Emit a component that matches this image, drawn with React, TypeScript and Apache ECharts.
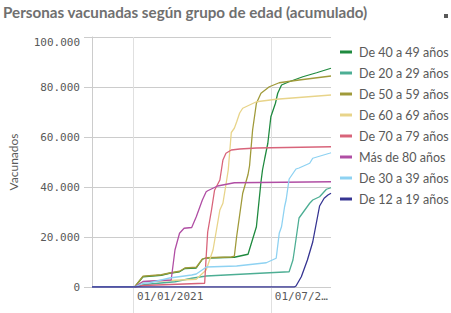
import { useEffect, useRef } from "react";
import * as echarts from "echarts";

const titleText = "Personas vacunadas según grupo de edad (acumulado)";
const yAxisName = "Vacunados";
const xMin = "2020-11-08";
const xMax = "2021-09-18";
const xTickDates = ["2021-01-01", "2021-07-01"];
const yTicks = [0, 20000, 40000, 60000, 80000, 100000];

const seriesNames = [
  "De 40 a 49 años",
  "De 20 a 29 años",
  "De 50 a 59 años",
  "De 60 a 69 años",
  "De 70 a 79 años",
  "Más de 80 años",
  "De 30 a 39 años",
  "De 12 a 19 años",
];

const seriesColors = [
  "#1f8a3f",
  "#4dae94",
  "#a09a3a",
  "#e8d48a",
  "#d8647a",
  "#b04ea4",
  "#8ed2f2",
  "#363592",
];

const s40a49: [string, number][] = [
  ["2020-11-08", 0], ["2021-01-03", 0], ["2021-01-14", 4100], ["2021-02-07", 4700],
  ["2021-02-18", 5500], ["2021-03-03", 6100], ["2021-03-10", 7400], ["2021-03-25", 7600],
  ["2021-04-02", 11100], ["2021-04-07", 11600], ["2021-05-14", 11900], ["2021-05-17", 12100],
  ["2021-06-01", 13100], ["2021-06-12", 24100], ["2021-06-18", 42000], ["2021-06-20", 46800],
  ["2021-06-23", 51500], ["2021-06-27", 57500], ["2021-07-01", 68100], ["2021-07-07", 73500],
  ["2021-07-10", 77500], ["2021-07-15", 80800], ["2021-07-25", 82100], ["2021-08-12", 84100],
  ["2021-08-30", 85700], ["2021-09-18", 87500],
];

const s20a29: [string, number][] = [
  ["2020-11-08", 0], ["2021-01-03", 0], ["2021-01-14", 800], ["2021-01-23", 1200],
  ["2021-02-25", 2100], ["2021-03-19", 3500], ["2021-04-05", 4300], ["2021-04-07", 4400],
  ["2021-07-25", 6100], ["2021-07-30", 10800], ["2021-08-01", 14800], ["2021-08-07", 27600],
  ["2021-08-21", 33500], ["2021-08-25", 34800], ["2021-09-03", 36100], ["2021-09-12", 39100],
  ["2021-09-16", 39500], ["2021-09-18", 39700],
];

const s50a59: [string, number][] = [
  ["2020-11-08", 0], ["2021-01-03", 0], ["2021-01-14", 4300], ["2021-02-07", 4900],
  ["2021-02-18", 5600], ["2021-03-03", 6300], ["2021-03-10", 7600], ["2021-03-25", 7900],
  ["2021-04-02", 11200], ["2021-04-07", 11700], ["2021-05-10", 12000], ["2021-05-14", 12300],
  ["2021-05-17", 20100], ["2021-05-25", 37500], ["2021-06-01", 45000], ["2021-06-03", 48500],
  ["2021-06-07", 62800], ["2021-06-12", 73500], ["2021-06-18", 77500], ["2021-06-29", 80100],
  ["2021-07-12", 81700], ["2021-08-07", 82800], ["2021-09-18", 84400],
];

const s60a69: [string, number][] = [
  ["2020-11-08", 0], ["2021-01-03", 0], ["2021-01-14", 2100], ["2021-02-18", 2600],
  ["2021-03-25", 3100], ["2021-04-07", 6800], ["2021-04-16", 14800], ["2021-04-25", 30800],
  ["2021-04-29", 33500], ["2021-05-03", 41000], ["2021-05-06", 46800], ["2021-05-10", 61800],
  ["2021-05-14", 63500], ["2021-05-17", 66000], ["2021-05-21", 69600], ["2021-05-25", 71500],
  ["2021-06-12", 74100], ["2021-07-08", 75100], ["2021-09-18", 76800],
];

const s70a79: [string, number][] = [
  ["2020-11-08", 0], ["2021-01-03", 0], ["2021-01-14", 600], ["2021-04-05", 1500],
  ["2021-04-07", 12000], ["2021-04-09", 22000], ["2021-04-14", 30800], ["2021-04-18", 38700],
  ["2021-04-25", 42800], ["2021-04-27", 46800], ["2021-04-29", 50800], ["2021-05-03", 53500],
  ["2021-05-10", 54800], ["2021-05-21", 55200], ["2021-06-12", 55600], ["2021-09-18", 56100],
];

const s80mas: [string, number][] = [
  ["2020-11-08", 0], ["2021-01-03", 0], ["2021-01-14", 2200], ["2021-02-07", 2600],
  ["2021-02-20", 2800], ["2021-02-25", 14800], ["2021-03-03", 21500], ["2021-03-09", 23500],
  ["2021-03-19", 23800], ["2021-03-25", 28100], ["2021-04-02", 34800], ["2021-04-07", 38100],
  ["2021-04-09", 38500], ["2021-04-22", 40400], ["2021-05-14", 41700], ["2021-09-18", 42100],
];

const s30a39: [string, number][] = [
  ["2020-11-08", 0], ["2021-01-03", 0], ["2021-01-14", 1500], ["2021-01-23", 1700],
  ["2021-02-18", 3600], ["2021-03-19", 4800], ["2021-03-25", 5200], ["2021-04-05", 7500],
  ["2021-04-07", 8000], ["2021-05-17", 8400], ["2021-06-25", 9700], ["2021-07-08", 11500],
  ["2021-07-12", 21500], ["2021-07-15", 24100], ["2021-07-19", 32100], ["2021-07-21", 34800],
  ["2021-07-25", 43200], ["2021-08-03", 47200], ["2021-08-07", 47600], ["2021-08-21", 49500],
  ["2021-08-25", 51500], ["2021-09-16", 53500], ["2021-09-18", 53700],
];

const s12a19: [string, number][] = [
  ["2020-11-08", 0], ["2021-08-01", 0], ["2021-08-03", 400], ["2021-08-10", 4100],
  ["2021-08-18", 10800], ["2021-08-25", 18000], ["2021-09-03", 32400], ["2021-09-09", 35500],
  ["2021-09-14", 36800], ["2021-09-18", 37500],
];

const seriesData = [s40a49, s20a29, s50a59, s60a69, s70a79, s80mas, s30a39, s12a19];

function toTime(s: string): number {
  const [y, m, d] = s.split("-").map(Number);
  return new Date(y, m - 1, d).getTime();
}

function fmtThousands(v: number): string {
  return String(Math.round(v)).replace(/\B(?=(\d{3})+(?!\d))/g, ".");
}

function fmtDate(v: number): string {
  const d = new Date(v);
  const dd = String(d.getDate()).padStart(2, "0");
  const mm = String(d.getMonth() + 1).padStart(2, "0");
  const full = `${dd}/${mm}/${d.getFullYear()}`;
  return d.getMonth() === 6 ? full.slice(0, 7) + "…" : full;
}

export default function App() {
  const ref = useRef<HTMLDivElement>(null);
  useEffect(() => {
    if (!ref.current) return;
    const chart = echarts.init(ref.current, null, { renderer: "svg" });
    const maxY = yTicks[yTicks.length - 1];
    const tickVals = xTickDates.map(toTime);
    chart.setOption({
      animation: false,
      backgroundColor: "#ffffff",
      title: {
        text: titleText,
        left: 3,
        top: 4,
        padding: 0,
        textStyle: {
          fontFamily: "Lato",
          fontSize: 15.2,
          fontWeight: "bold",
          color: "#707070",
        },
      },
      graphic: [
        {
          type: "rect",
          left: 444,
          top: 14,
          shape: { width: 4, height: 4 },
          style: { fill: "#595959" },
        },
      ],
      legend: {
        orient: "vertical",
        left: 340,
        top: 45,
        padding: 0,
        icon: "rect",
        itemWidth: 12,
        itemHeight: 3,
        itemGap: 7,
        textStyle: {
          fontFamily: "Lato",
          fontSize: 12.5,
          color: "#595959",
          lineHeight: 14,
          padding: [0, 0, 0, 2],
        },
        data: seriesNames,
      },
      grid: {
        left: 92,
        top: 37,
        right: 120,
        bottom: 26,
        containLabel: false,
        outerBoundsMode: "none",
      },
      xAxis: {
        type: "value",
        min: toTime(xMin),
        max: toTime(xMax),
        axisLine: { show: false },
        axisTick: {
          show: true,
          length: 26,
          customValues: tickVals,
          lineStyle: { color: "#e0e0e0" },
        },
        splitLine: { show: true, lineStyle: { color: "#e0e0e0", width: 1 } },
        axisLabel: {
          customValues: tickVals,
          formatter: (v: number) => fmtDate(v),
          align: "left",
          padding: [0, 0, 0, 4],
          margin: 4,
          fontFamily: "DejaVu Sans Mono",
          fontSize: 11,
          color: "#595959",
        },
      },
      yAxis: {
        type: "value",
        min: 0,
        max: maxY,
        interval: 20000,
        name: yAxisName,
        nameLocation: "middle",
        nameGap: 73,
        nameTextStyle: { fontFamily: "Lato", fontSize: 12, color: "#595959" },
        axisLine: { show: true, lineStyle: { color: "#cccccc" } },
        axisTick: { show: true, length: 8, lineStyle: { color: "#cccccc" } },
        splitLine: { show: true, lineStyle: { color: "#cccccc" } },
        axisLabel: {
          margin: 12,
          fontFamily: "DejaVu Sans Mono",
          fontSize: 11,
          color: "#595959",
          formatter: (v: number) => (v === maxY ? `{top|${fmtThousands(v)}}` : fmtThousands(v)),
          rich: {
            top: {
              fontFamily: "DejaVu Sans Mono",
              fontSize: 11,
              color: "#595959",
              padding: [11, 0, 0, 0],
            },
          },
        },
      },
      series: seriesNames.map((name, i) => ({
        name,
        type: "line",
        data: seriesData[i].map(([d, v]) => [toTime(d), v]),
        showSymbol: false,
        symbol: "none",
        color: seriesColors[i],
        lineStyle: { width: 1.3, color: seriesColors[i] },
      })),
    });
    return () => chart.dispose();
  }, []);
  return (
    <div
      ref={ref}
      style={{ position: "fixed", left: 0, top: 0, width: 451, height: 313 }}
    />
  );
}
